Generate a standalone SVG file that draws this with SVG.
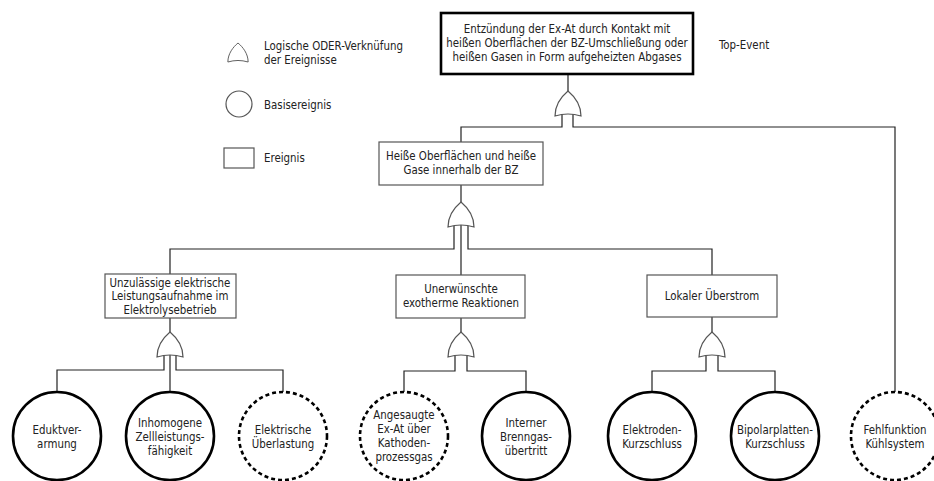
<svg xmlns="http://www.w3.org/2000/svg" width="934" height="481" viewBox="0 0 934 481">
  <defs>
    <style>
      text { font-family: "DejaVu Sans Condensed", "DejaVu Sans", sans-serif; font-size: 11.4px; fill: #222; }
      .c { text-anchor: middle; }
      .box { fill: #fff; stroke: #555; stroke-width: 1.2; }
      .top { fill: #fff; stroke: #000; stroke-width: 2.6; }
      .gate { fill: #fff; stroke: #555; stroke-width: 1.2; }
      .wire { fill: none; stroke: #222; stroke-width: 1.2; }
      .basic { fill: #fff; stroke: #000; stroke-width: 2.6; }
      .undev { fill: #fff; stroke: #000; stroke-width: 2.6; stroke-dasharray: 4 3; }
    </style>
    <!-- OR gate, apex at (0,0), base at y=25 -->
    <path id="or" d="M-13,25 C-13,14 -6,5 0,0 C6,5 13,14 13,25 Q0,21 -13,25 Z"/>
  </defs>

  <!-- legend -->
  <g id="legend">
    <use href="#or" class="gate" transform="translate(238,43) scale(0.78,0.76)"/>
    <text x="264" y="50">Logische ODER-Verknüfung</text>
    <text x="264" y="64">der Ereignisse</text>
    <circle cx="239" cy="104" r="13" fill="#fff" stroke="#555" stroke-width="1.2"/>
    <text x="264" y="109">Basisereignis</text>
    <rect x="224" y="148" width="30" height="20" class="box"/>
    <text x="264" y="162">Ereignis</text>
    <text x="719" y="49">Top-Event</text>
  </g>

  <!-- connectors -->
  <g id="connectors">
    <path class="wire" d="M568,74 V92"/>
    <path class="wire" d="M562,114 V127 H461 V142"/>
    <path class="wire" d="M573,114 V127 H895 V392"/>

    <path class="wire" d="M461,185 V203"/>
    <path class="wire" d="M454,226 V249 H170 V274"/>
    <path class="wire" d="M468,226 V249 H712 V275"/>
    <path class="wire" d="M461,224 V275"/>

    <path class="wire" d="M170,318 V332"/>
    <path class="wire" d="M164,355 V370 H57 V392"/>
    <path class="wire" d="M176,355 V370 H283 V392"/>
    <path class="wire" d="M170,353 V392"/>

    <path class="wire" d="M461,318 V332"/>
    <path class="wire" d="M455,355 V371 H404 V392"/>
    <path class="wire" d="M467,355 V371 H526 V392"/>

    <path class="wire" d="M712,317 V332"/>
    <path class="wire" d="M706,355 V371 H652 V392"/>
    <path class="wire" d="M718,355 V371 H775 V392"/>
  </g>

  <!-- gates -->
  <g id="gates">
    <use href="#or" class="gate" x="568" y="91"/>
    <use href="#or" class="gate" x="461" y="202"/>
    <use href="#or" class="gate" x="170" y="332"/>
    <use href="#or" class="gate" x="461" y="332"/>
    <use href="#or" class="gate" x="712" y="332"/>
  </g>

  <!-- events -->
  <g id="top-event">
    <rect x="441" y="13" width="252" height="61" class="top"/>
    <text class="c" x="567" y="33">Entzündung der Ex-At durch Kontakt mit</text>
    <text class="c" x="567" y="47">heißen Oberflächen der BZ-Umschließung oder</text>
    <text class="c" x="567" y="61">heißen Gasen in Form aufgeheizten Abgases</text>
  </g>

  <g id="hot-surfaces">
    <rect x="379" y="142" width="164" height="43" class="box"/>
    <text class="c" x="461" y="160">Heiße Oberflächen und heiße</text>
    <text class="c" x="461" y="174">Gase innerhalb der BZ</text>
  </g>

  <g id="electrical-power">
    <rect x="105" y="274" width="131" height="44" class="box"/>
    <text class="c" x="170" y="287">Unzulässige elektrische</text>
    <text class="c" x="170" y="300">Leistungsaufnahme im</text>
    <text class="c" x="170" y="314">Elektrolysebetrieb</text>
  </g>

  <g id="exothermic">
    <rect x="396" y="275" width="129" height="43" class="box"/>
    <text class="c" x="461" y="293">Unerwünschte</text>
    <text class="c" x="461" y="307">exotherme Reaktionen</text>
  </g>

  <g id="overcurrent">
    <rect x="647" y="275" width="130" height="42" class="box"/>
    <text class="c" x="712" y="300">Lokaler Überstrom</text>
  </g>

  <!-- basic and undeveloped events -->
  <g id="educt">
    <circle cx="57" cy="436" r="44" class="basic"/>
    <text class="c" x="57" y="434">Eduktver-</text>
    <text class="c" x="57" y="448">armung</text>
  </g>
  <g id="inhomogeneous">
    <circle cx="170" cy="436" r="44" class="basic"/>
    <text class="c" x="170" y="427">Inhomogene</text>
    <text class="c" x="170" y="441">Zellleistungs-</text>
    <text class="c" x="170" y="455">fähigkeit</text>
  </g>
  <g id="overload">
    <circle cx="283" cy="436" r="44" class="undev"/>
    <text class="c" x="283" y="434">Elektrische</text>
    <text class="c" x="283" y="448">Überlastung</text>
  </g>
  <g id="intake">
    <circle cx="404" cy="436" r="44" class="undev"/>
    <text class="c" x="404" y="419">Angesaugte</text>
    <text class="c" x="404" y="433">Ex-At über</text>
    <text class="c" x="404" y="447">Kathoden-</text>
    <text class="c" x="404" y="461">prozessgas</text>
  </g>
  <g id="crossover">
    <circle cx="526" cy="436" r="44" class="basic"/>
    <text class="c" x="526" y="427">Interner</text>
    <text class="c" x="526" y="441">Brenngas-</text>
    <text class="c" x="526" y="455">übertritt</text>
  </g>
  <g id="electrode-short">
    <circle cx="652" cy="436" r="44" class="basic"/>
    <text class="c" x="652" y="434">Elektroden-</text>
    <text class="c" x="652" y="448">Kurzschluss</text>
  </g>
  <g id="bipolar-short">
    <circle cx="775" cy="436" r="44" class="basic"/>
    <text class="c" x="775" y="434">Bipolarplatten-</text>
    <text class="c" x="775" y="448">Kurzschluss</text>
  </g>
  <g id="cooling">
    <circle cx="895" cy="436" r="44" class="undev"/>
    <text class="c" x="895" y="434">Fehlfunktion</text>
    <text class="c" x="895" y="448">Kühlsystem</text>
  </g>
</svg>
